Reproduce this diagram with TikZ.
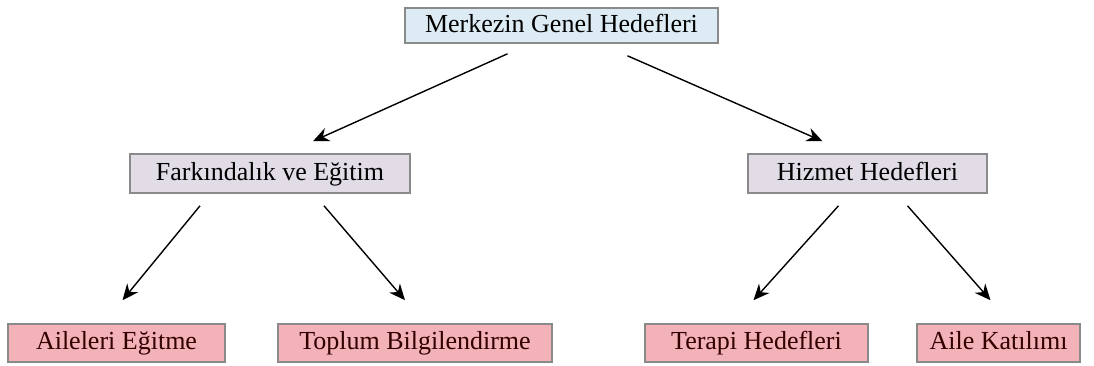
\documentclass[tikz,border=0pt]{standalone}
\usepackage{fontspec}
\setmainfont{Liberation Serif}
\usetikzlibrary{arrows.meta,positioning}

\definecolor{topfill}{HTML}{DDEBF5}
\definecolor{midfill}{HTML}{E2DCE6}
\definecolor{leaffill}{HTML}{F3B1B8}
\definecolor{boxline}{HTML}{8A8A8A}

\tikzset{
  box/.style={draw=boxline, line width=0.8pt, inner sep=0pt, text height=9pt, text depth=2.5pt,
    font=\fontsize{13}{15}\selectfont},
  goal/.style={box, fill=topfill, minimum height=17.5pt},
  group/.style={box, fill=midfill, minimum height=19.5pt},
  leaf/.style={box, fill=leaffill, minimum height=19pt, text=black!80!red},
}

\begin{document}
\begin{tikzpicture}[x=0.5pt, y=-0.5pt, >={Stealth[length=8pt,width=7pt]}, line width=0.7pt]
  \useasboundingbox (0,0) rectangle (1094,365);
  \node[goal, minimum width=156.5pt] (merkez) at (561.5,25.5) {Merkezin Genel Hedefleri};
  \node[group, minimum width=140pt] (farkindalik) at (270,173.5) {Farkındalık ve Eğitim};
  \node[group, minimum width=119.5pt] (hizmet) at (867.5,173.5) {Hizmet Hedefleri};
  \node[leaf, minimum width=108.5pt] (aileegitim) at (116.5,343) {Aileleri Eğitme};
  \node[leaf, minimum width=137pt] (toplum) at (415,343) {Toplum Bilgilendirme};
  \node[leaf, minimum width=111.5pt] (terapi) at (756.5,343) {Terapi Hedefleri};
  \node[leaf, minimum width=81.5pt] (katilim) at (998.5,343) {Aile Katılımı};

  % first level
  \draw[->] ([xshift=-27pt,yshift=-5pt]merkez.south) -- ([xshift=21.5pt,yshift=6pt]farkindalik.north);
  \draw[->] ([xshift=33pt,yshift=-6pt]merkez.south) -- ([xshift=-22.5pt,yshift=6pt]hizmet.north);
  % second level
  \draw[->] ([xshift=-35pt,yshift=-6pt]farkindalik.south) -- ([xshift=3pt,yshift=11.5pt]aileegitim.north);
  \draw[->] ([xshift=27pt,yshift=-6pt]farkindalik.south) -- ([xshift=-5pt,yshift=11.5pt]toplum.north);
  \draw[->] ([xshift=-14.5pt,yshift=-6pt]hizmet.south) -- ([xshift=-1.5pt,yshift=11.5pt]terapi.north);
  \draw[->] ([xshift=20pt,yshift=-6pt]hizmet.south) -- ([xshift=-4pt,yshift=11.5pt]katilim.north);
\end{tikzpicture}
\end{document}
